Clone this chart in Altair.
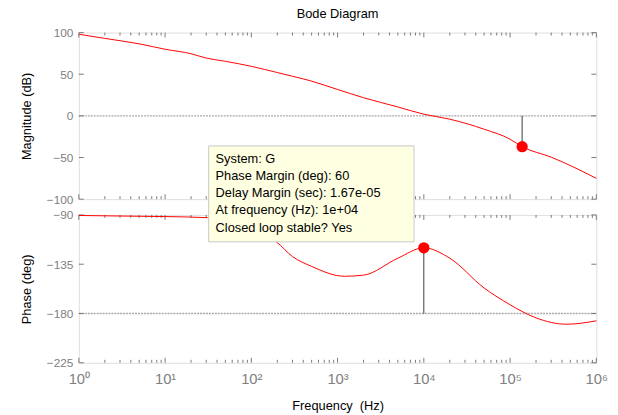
import altair as alt
import pandas as pd

# ---- data ----
mag_freq = [1, 2, 5, 10, 20, 30, 50, 100, 200, 300, 500, 1000, 2000, 5000,
            1e4, 2e4, 5e4, 1e5, 1.38e5, 3e5, 1e6]
mag_db = [98, 93, 86.5, 80, 74.6, 69.4, 65.5, 59.5, 52, 47.6, 41.7, 31.7, 21.8,
          10.7, 2, -4, -16, -28, -37, -49.6, -75]

phase_freq = [1, 3, 10, 31, 60, 100, 195, 300, 500, 1200, 2000, 5000, 1e4,
              2e4, 5e4, 1e5, 2e5, 4.5e5, 1e6]
phase_deg = [-90.5, -91, -91.5, -92.5, -97, -104, -114.6, -128, -137, -146,
             -145, -129.5, -120, -129.5, -156.7, -172, -184, -189.8, -186.7]

gm_freq = [1.38e5]   # marker on magnitude plot
gm_mag = [-37]
pm_freq = [1e4]      # phase margin marker
pm_phase = [-120]

mag_ticks = [-100, -50, 0, 50, 100]
phase_ticks = [-225, -180, -135, -90]
x_ticks = [1, 10, 100, 1000, 1e4, 1e5, 1e6]

tip_lines = ["System: G", "Phase Margin (deg): 60", "Delay Margin (sec): 1.67e-05",
             "At frequency (Hz): 1e+04", "Closed loop stable? Yes"]
# datatip box extent in data units of the phase panel
tip_f = [32, 7700]
tip_p = [-27, -114.6]

W, H1, H2 = 525, 169, 150
FRAME = "#7a7a7a"
LBL = "#808080"
FONT = "Liberation Sans"

mag_df = pd.DataFrame({"f": mag_freq, "v": mag_db})
ph_df = pd.DataFrame({"f": phase_freq, "v": phase_deg})

minor_f = [d * 10 ** k for k in range(6) for d in range(2, 10)]
minor_df = pd.DataFrame({"f": minor_f})
major_df = pd.DataFrame({"f": x_ticks})

xscale = alt.Scale(type="log", domain=[1, 1e6], nice=False)

label_expr = ("datum.value < 5 ? '10\u2070' : datum.value < 50 ? '10\u00b9' : "
              "datum.value < 500 ? '10\u00b2' : datum.value < 5000 ? '10\u00b3' : "
              "datum.value < 50000 ? '10\u2074' : datum.value < 500000 ? '10\u2075' : '10\u2076'")


def panel(df, ydom, yticks, ytitle, hline, mk_f, mk_v, stem_to, H, bottom):
    yscale = alt.Scale(domain=ydom, nice=False, zero=False)
    if bottom:
        xaxis = alt.Axis(values=x_ticks, grid=False, ticks=False, domain=False,
                         labelExpr=label_expr,
                         labelColor=LBL, labelFontSize=15, labelFont=FONT,
                         labelPadding=9, title="Frequency \u00a0(Hz)",
                         titleFontSize=13, titleFont=FONT, titleFontWeight="normal",
                         titleColor="black", titlePadding=13, labelFlush=False)
    else:
        xaxis = None
    yaxis = alt.Axis(values=yticks, grid=False, ticks=False, domain=False,
                     labelColor=LBL, labelFontSize=12, labelFont=FONT, labelPadding=6,
                     title=ytitle, titleFontSize=13, titleFont=FONT,
                     titleFontWeight="normal", titleColor="black", titlePadding=13)

    def X(field="f:Q"):
        return alt.X(field, scale=xscale, axis=xaxis)

    def Y(field="v:Q"):
        return alt.Y(field, scale=yscale, axis=yaxis)

    line = alt.Chart(df).mark_line(color="#ff0000", strokeWidth=1,
                                   interpolate="monotone").encode(x=X(), y=Y())
    ref = alt.Chart(pd.DataFrame({"f": [1, 1e6], "v": [hline, hline]})).mark_line(
        color="#a8a8a8", strokeDash=[2, 1], strokeWidth=1.5).encode(x=X(), y=Y())

    tick_layers = []
    for tdf, ln in ((minor_df, 3), (major_df, 5)):
        tick_layers.append(alt.Chart(tdf).mark_rule(color=FRAME, strokeWidth=1).encode(
            x=X(), y=alt.value(0), y2=alt.value(ln)))
        tick_layers.append(alt.Chart(tdf).mark_rule(color=FRAME, strokeWidth=1).encode(
            x=X(), y=alt.value(H), y2=alt.value(H - ln)))
    ydf = pd.DataFrame({"v": yticks})
    yt_l = alt.Chart(ydf).mark_rule(color=FRAME).encode(
        y=Y(), x=alt.value(0), x2=alt.value(5))
    yt_r = alt.Chart(ydf).mark_rule(color=FRAME).encode(
        y=Y(), x=alt.value(W - 5), x2=alt.value(W))

    mdf = pd.DataFrame({"f": mk_f, "v": mk_v, "v2": [stem_to]})
    stem = alt.Chart(mdf).mark_rule(color="#3a3a3a", strokeWidth=1).encode(
        x=X(), y=Y(), y2="v2:Q")
    pt = alt.Chart(mdf).mark_point(filled=True, color="#ff0000", size=130,
                                   opacity=1).encode(x=X(), y=Y())

    layers = [ref] + tick_layers + [yt_l, yt_r, line, stem, pt]
    if bottom:
        bdf = pd.DataFrame({"f": [tip_f[0]], "f2": [tip_f[1]],
                            "v": [tip_p[0]], "v2": [tip_p[1]],
                            "txt": ["\n".join(tip_lines)]})
        box = alt.Chart(bdf).mark_rect(fill="#ffffe1", stroke="#c8c8c8",
                                       strokeWidth=1).encode(
            x=X(), x2="f2:Q", y=Y(), y2="v2:Q")
        txt = alt.Chart(bdf).mark_text(align="left", baseline="top", dx=7, dy=7,
                                       fontSize=13, font=FONT, color="black",
                                       lineBreak="\n", lineHeight=17.5).encode(
            x=X(), y=Y(), text="txt:N")
        layers += [box, txt]
    return alt.layer(*layers).properties(width=W, height=H)


top = panel(mag_df, [-100, 100], mag_ticks, "Magnitude (dB)", 0,
            gm_freq, gm_mag, 0, H1, False).properties(
    title=alt.TitleParams("Bode Diagram", anchor="middle",
                          fontSize=13, font=FONT, fontWeight="normal",
                          color="black", offset=6))
bot = panel(ph_df, [-225, -90], phase_ticks, "Phase (deg)", -180,
            pm_freq, pm_phase, -180, H2, True)

chart = alt.vconcat(top, bot, spacing=16, bounds="flush").properties(
    padding={"left": 20, "top": 4, "right": 10, "bottom": 4}
).configure_view(stroke=FRAME, strokeWidth=1.5).configure(background="white")

chart.save("out.html", embed_options={"renderer": "svg", "actions": False})
